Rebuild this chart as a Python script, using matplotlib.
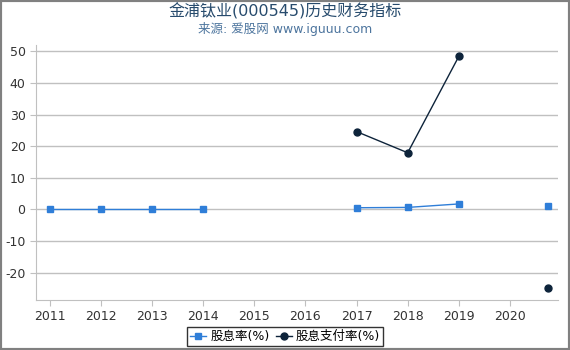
import matplotlib.pyplot as plt
from matplotlib.patches import Rectangle

plt.rcParams['font.family'] = ['DejaVu Sans', 'Noto Sans CJK SC']
plt.rcParams['axes.unicode_minus'] = False

# data
yield_x = [2011, 2012, 2013, 2014, 2017, 2018, 2019, 2020.75]
yield_y = [0.0, 0.0, 0.0, 0.0, 0.5, 0.6, 1.7, 1.1]
payout_x = [2017, 2018, 2019, 2020.75]
payout_y = [24.6, 17.9, 48.4, -25.0]
years = list(range(2011, 2021))

fig = plt.figure(figsize=(5.7, 3.5), dpi=100)
ax = fig.add_axes([36 / 570, 1 - 300 / 350, (558 - 36) / 570, (300 - 45) / 350])

# break lines where years are missing
seg_yield = [(yield_x[:4], yield_y[:4]), (yield_x[4:7], yield_y[4:7])]
for xs, ys in seg_yield:
    ax.plot(xs, ys, color='#2f7ed8', lw=1, zorder=3)
ax.plot(yield_x, yield_y, ls='none', marker='s', ms=5, color='#2f7ed8', zorder=4)
ax.plot(payout_x[:3], payout_y[:3], color='#0d233a', lw=1, zorder=3)
ax.plot(payout_x, payout_y, ls='none', marker='o', ms=5, color='#0d233a', zorder=4)

# legend handles
h1, = ax.plot([], [], color='#2f7ed8', marker='s', ms=5, lw=1, label='股息率(%)')
h2, = ax.plot([], [], color='#0d233a', marker='o', ms=5, lw=1, label='股息支付率(%)')

ax.set_xlim(2010.73, 2020.94)
ax.set_ylim(-28.7, 52)
ax.set_xticks(years)
ax.set_yticks(range(-20, 51, 10))
ax.grid(axis='y', color='#c0c0c0', lw=1)
ax.set_axisbelow(True)
for s in ['top', 'right']:
    ax.spines[s].set_visible(False)
ax.spines['left'].set_color('#c0c0c0')
ax.spines['bottom'].set_color('#c0c0c0')
ax.tick_params(axis='both', colors='#c0c0c0', labelcolor='#333333', labelsize=9, length=4)

leg = fig.legend(handles=[h1, h2], loc='lower center', bbox_to_anchor=(0.5, 0.0), ncol=2,
                 frameon=True, fancybox=False, fontsize=9, handlelength=1.3,
                 handletextpad=0.3, columnspacing=0.5, borderpad=0.25, borderaxespad=0.3)
leg.get_frame().set_edgecolor('black')
leg.get_frame().set_linewidth(1)

fig.text(0.5, 1 - 11 / 350, '金浦钛业(000545)历史财务指标', ha='center', va='center',
         fontsize=11.5, color='#274b6d')
fig.text(0.5, 1 - 29 / 350, '来源: 爱股网 www.iguuu.com', ha='center', va='center',
         fontsize=9, color='#4d759e')

fig.patches.append(Rectangle((0, 0), 1, 1, transform=fig.transFigure, fill=False,
                             edgecolor='#808080', lw=3))

fig.savefig('out.png', dpi=100)
